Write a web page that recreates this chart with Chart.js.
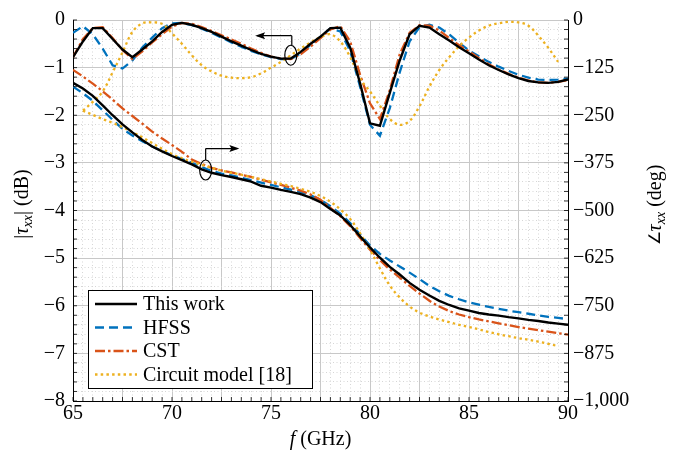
<!DOCTYPE html>
<html>
<head>
<meta charset="utf-8">
<script src="https://cdn.jsdelivr.net/npm/chart.js@4.4.1/dist/chart.umd.min.js"></script>
<style>
body { margin: 0; background: #fff; }
#wrap { width: 686px; height: 457px; position: relative; }
</style>
</head>
<body>
<div id="wrap"><canvas id="lineChart"></canvas></div>
<script>
// frequency grid (GHz)
var freq = [65, 65.5, 66, 66.5, 67, 67.5, 68, 68.5, 69, 69.5, 70, 70.5, 71, 71.5, 72, 72.5, 73, 73.5, 74, 74.5,
            75, 75.5, 76, 76.5, 77, 77.5, 78, 78.5, 79, 79.5, 80, 80.5, 81, 81.5, 82, 82.5, 83, 83.5, 84, 84.5,
            85, 85.5, 86, 86.5, 87, 87.5, 88, 88.5, 89, 89.5, 90];

// |tau_xx| in dB
var magWork = [-0.78, -0.45, -0.17, -0.17, -0.40, -0.62, -0.78, -0.62, -0.45, -0.25, -0.10, -0.06, -0.10, -0.17, -0.25, -0.35, -0.45, -0.54, -0.63, -0.71,
               -0.77, -0.81, -0.81, -0.67, -0.50, -0.35, -0.17, -0.16, -0.58, -1.33, -2.17, -2.22, -1.53, -0.85, -0.30, -0.12, -0.16, -0.30, -0.43, -0.57,
               -0.70, -0.83, -0.95, -1.05, -1.14, -1.22, -1.28, -1.31, -1.32, -1.30, -1.25];
var magHfss = [-0.27, -0.13, -0.30, -0.60, -0.95, -1.02, -0.85, -0.58, -0.37, -0.17, -0.07, -0.06, -0.11, -0.18, -0.27, -0.37, -0.47, -0.56, -0.65, -0.72,
               -0.78, -0.82, -0.82, -0.70, -0.52, -0.35, -0.18, -0.24, -0.65, -1.40, -2.20, -2.43, -1.85, -1.10, -0.45, -0.15, -0.10, -0.16, -0.30, -0.48,
               -0.64, -0.76, -0.88, -0.98, -1.07, -1.15, -1.21, -1.25, -1.26, -1.25, -1.23];
var magCst = [-0.78, -0.40, -0.17, -0.15, -0.38, -0.63, -0.82, -0.66, -0.47, -0.30, -0.14, -0.06, -0.08, -0.15, -0.23, -0.32, -0.41, -0.50, -0.60, -0.69,
              -0.77, -0.81, -0.82, -0.72, -0.56, -0.38, -0.20, -0.13, -0.45, -1.15, -1.75, -2.08, -1.47, -0.72, -0.27, -0.11, -0.12, -0.22, -0.38, -0.53,
              -0.66, -0.80, -0.93, -1.04, -1.13, -1.21, -1.27, -1.31, -1.32, -1.30, -1.26];
var magCircuit = [null, -1.90, -1.72, -1.50, -1.10, -0.68, -0.25, -0.07, -0.05, -0.08, -0.28, -0.50, -0.74, -0.95, -1.08, -1.17, -1.21, -1.22, -1.20, -1.12,
                  -1.00, -0.88, -0.74, -0.60, -0.47, -0.36, -0.30, -0.45, -0.78, -1.23, -1.50, -1.80, -2.08, -2.20, -2.12, -1.81, -1.40, -1.05, -0.78, -0.55,
                  -0.37, -0.22, -0.12, -0.07, -0.04, -0.05, -0.12, -0.33, -0.58, -0.88, null];

// angle of tau_xx in degrees
var phWork = [-165, -180, -199, -224, -250, -274, -295, -315, -332, -345, -357, -368, -379, -392, -401, -407, -412, -418, -424, -435,
              -440, -446, -451, -457, -466, -478, -496, -513, -538, -568, -597, -624, -648, -668, -690, -708, -723, -737, -748, -757,
              -763, -769, -773, -776, -780, -783, -787, -790, -794, -797, -800];
var phHfss = [-175, -192, -212, -237, -262, -286, -303, -318, -332, -344, -355, -365, -375, -386, -396, -403, -408, -414, -420, -427,
              -433, -439, -445, -452, -460, -472, -489, -508, -533, -563, -592, -614, -631, -647, -663, -680, -698, -712, -724, -733,
              -741, -747, -753, -758, -763, -767, -771, -775, -779, -782, -785];
var phCst = [-131, -148, -167, -187, -209, -232, -252, -272, -293, -311, -328, -346, -366, -378, -388, -395, -400, -406, -412, -419,
             -426, -433, -440, -448, -458, -472, -493, -515, -541, -572, -603, -630, -655, -676, -698, -718, -737, -752, -764, -773,
             -780, -786, -791, -796, -801, -806, -810, -814, -818, -822, -826];
var phCircuit = [null, -238, -249, -260, -270, -281, -294, -308, -323, -338, -352, -363, -372, -380, -388, -395, -401, -406, -412, -418,
                 -424, -430, -436, -443, -451, -462, -477, -497, -522, -560, -603, -652, -697, -728, -752, -768, -778, -786, -793, -800,
                 -806, -812, -819, -825, -830, -835, -839, -844, -850, -856, null];

var names = ['This work', 'HFSS', 'CST', 'Circuit model [18]'];
var colors = ['#000000', '#0072BD', '#D95319', '#EDB120'];
var dashes = [[], [9, 5], [10, 3, 2.5, 3], [2.5, 3.2]];

var FONT = "'Liberation Serif', 'Times New Roman', serif";

function pts(arr) {
    var out = [];
    for (var i = 0; i < freq.length; i++) {
        if (arr[i] !== null) out.push({x: freq[i], y: arr[i]});
    }
    return out;
}

function makeSet(k, arr, axis) {
    return {
        label: names[k],
        data: pts(arr),
        yAxisID: axis,
        borderColor: colors[k],
        borderWidth: k == 0 ? 2.4 : 2.3,
        borderDash: dashes[k],
        pointRadius: 0,
        tension: k == 3 ? 0.35 : 0,
        fill: false,
        order: k == 0 ? 0 : 5 - k
    };
}

function minus(s) { return String(s).replace('-', '\u2212'); }

// draw a label made of pieces (italic / subscript / smaller)
function drawParts(ctx, parts, size) {
    var total = 0, i, p;
    function fnt(p) {
        var s = p.sub ? size * 0.7 : (p.s || size);
        return (p.i ? 'italic ' : '') + s + 'px ' + FONT;
    }
    for (i = 0; i < parts.length; i++) {
        p = parts[i];
        ctx.font = fnt(p);
        p.w = ctx.measureText(p.t).width;
        total += p.w;
    }
    var x = -total / 2;
    ctx.textBaseline = 'middle';
    ctx.textAlign = 'left';
    for (i = 0; i < parts.length; i++) {
        p = parts[i];
        ctx.font = fnt(p);
        ctx.fillText(p.t, x, p.sub ? size * 0.25 : 0);
        x += p.w;
    }
}

function arrow(ctx, x0, y0, x1, y1) {
    ctx.beginPath();
    ctx.moveTo(x0, y0);
    ctx.lineTo(x1, y1);
    ctx.stroke();
    var a = Math.atan2(y1 - y0, x1 - x0);
    ctx.beginPath();
    ctx.moveTo(x1 + 2 * Math.cos(a), y1 + 2 * Math.sin(a));
    ctx.lineTo(x1 - 8 * Math.cos(a) + 3.5 * Math.sin(a), y1 - 8 * Math.sin(a) - 3.5 * Math.cos(a));
    ctx.lineTo(x1 - 6 * Math.cos(a), y1 - 6 * Math.sin(a));
    ctx.lineTo(x1 - 8 * Math.cos(a) - 3.5 * Math.sin(a), y1 - 8 * Math.sin(a) + 3.5 * Math.cos(a));
    ctx.closePath();
    ctx.fill();
}

var extras = {
    id: 'extras',
    afterDraw: function(chart) {
        var ctx = chart.ctx;
        var a = chart.chartArea;
        var sx = chart.scales.x, sy = chart.scales.y, sy2 = chart.scales.y2;
        ctx.save();
        ctx.strokeStyle = '#000';
        ctx.fillStyle = '#000';
        ctx.lineWidth = 0.8;
        // inner tick marks
        sx.ticks.forEach(function(t) {
            var px = sx.getPixelForValue(t.value);
            ctx.beginPath(); ctx.moveTo(px, a.bottom); ctx.lineTo(px, a.bottom - 4); ctx.stroke();
        });
        sy.ticks.forEach(function(t) {
            var py = sy.getPixelForValue(t.value);
            ctx.beginPath(); ctx.moveTo(a.left, py); ctx.lineTo(a.left + 4, py); ctx.stroke();
        });
        sy2.ticks.forEach(function(t) {
            var py = sy2.getPixelForValue(t.value);
            ctx.beginPath(); ctx.moveTo(a.right, py); ctx.lineTo(a.right - 4, py); ctx.stroke();
        });

        // annotations: ellipses with arrows
        ctx.lineWidth = 1.2;
        var ex = sx.getPixelForValue(76.0), ey = sy.getPixelForValue(-0.74);
        ctx.beginPath(); ctx.ellipse(ex, ey, 6, 10, 0, 0, Math.PI * 2); ctx.stroke();
        var ty = sy.getPixelForValue(-0.33);
        ctx.beginPath(); ctx.moveTo(ex + 1, ey - 10); ctx.lineTo(ex + 1, ty); ctx.stroke();
        arrow(ctx, ex + 1, ty, sx.getPixelForValue(74.3), ty);

        var fx = sx.getPixelForValue(71.7), fy = sy.getPixelForValue(-3.15);
        ctx.beginPath(); ctx.ellipse(fx, fy, 6, 10, 0, 0, Math.PI * 2); ctx.stroke();
        var uy = sy.getPixelForValue(-2.7);
        ctx.beginPath(); ctx.moveTo(fx, fy - 10); ctx.lineTo(fx, uy); ctx.stroke();
        arrow(ctx, fx, uy, sx.getPixelForValue(73.3), uy);

        // legend
        var lx = 88, ly = 290, lw = 224, lh = 98;
        ctx.fillStyle = '#fff';
        ctx.fillRect(lx, ly, lw, lh);
        ctx.lineWidth = 1;
        ctx.strokeStyle = '#000';
        ctx.strokeRect(lx + 0.5, ly + 0.5, lw, lh);
        for (var k = 0; k < names.length; k++) {
            var ry = ly + 14 + k * 23.5;
            ctx.strokeStyle = colors[k];
            ctx.lineWidth = 2.4;
            ctx.setLineDash(dashes[k]);
            ctx.beginPath(); ctx.moveTo(lx + 7, ry); ctx.lineTo(lx + 49, ry); ctx.stroke();
            ctx.setLineDash([]);
            ctx.fillStyle = '#000';
            ctx.font = '20px ' + FONT;
            ctx.textAlign = 'left';
            ctx.textBaseline = 'middle';
            ctx.fillText(names[k], lx + 55, ry + 1);
        }

        // axis titles
        ctx.fillStyle = '#000';
        ctx.save();
        ctx.translate(23, 204);
        ctx.rotate(-Math.PI / 2);
        drawParts(ctx, [{t: '|'}, {t: '\u03c4', i: true}, {t: 'xx', i: true, sub: true}, {t: '| (dB)'}], 20);
        ctx.restore();

        ctx.save();
        ctx.translate(656, 205);
        ctx.rotate(-Math.PI / 2);
        drawParts(ctx, [{t: '\u2220', s: 16}, {t: '\u03c4', i: true}, {t: 'xx', i: true, sub: true}, {t: ' (deg)'}], 20);
        ctx.restore();

        ctx.save();
        ctx.translate((a.left + a.right) / 2, 440);
        drawParts(ctx, [{t: 'f', i: true}, {t: ' (GHz)'}], 20);
        ctx.restore();
        ctx.restore();
    }
};

function renderChart() {
    var ctx = document.getElementById('lineChart').getContext('2d');
    var sets = [
        makeSet(0, magWork, 'y'), makeSet(1, magHfss, 'y'), makeSet(2, magCst, 'y'), makeSet(3, magCircuit, 'y'),
        makeSet(0, phWork, 'y2'), makeSet(1, phHfss, 'y2'), makeSet(2, phCst, 'y2'), makeSet(3, phCircuit, 'y2')
    ];
    var myChart = new Chart(ctx, {
        type: 'line',
        data: { datasets: sets },
        plugins: [extras],
        options: {
            responsive: true,
            maintainAspectRatio: false,
            animation: false,
            layout: { padding: { top: 12, left: 0, right: 0, bottom: 0 } },
            plugins: { legend: { display: false }, tooltip: { enabled: false } },
            scales: {
                x: {
                    type: 'linear', min: 65, max: 90,
                    afterFit: function(s) { s.height = 56; },
                    ticks: {
                        stepSize: 0.5, autoSkip: false, maxRotation: 0, padding: 1,
                        color: '#000', font: { family: FONT, size: 20 },
                        callback: function(v) { return Math.abs(v % 5) < 1e-6 ? String(v) : ''; }
                    },
                    grid: {
                        drawTicks: false,
                        color: function(c) { return c.tick && Math.abs(c.tick.value % 2.5) < 1e-6 ? '#c8c8c8' : '#d6d6d6'; },
                        lineWidth: 1
                    },
                    border: {
                        color: '#000', width: 1,
                        dash: function(c) { return c.tick && Math.abs(c.tick.value % 2.5) > 1e-6 ? [1, 2.5] : []; }
                    }
                },
                y: {
                    position: 'left', min: -8, max: 0,
                    afterFit: function(s) { s.width = 73; },
                    ticks: {
                        stepSize: 0.2, autoSkip: false, padding: 8,
                        color: '#000', font: { family: FONT, size: 20 },
                        callback: function(v) { return Math.abs(v - Math.round(v)) < 1e-6 ? minus(Math.round(v)) : ''; }
                    },
                    grid: {
                        drawTicks: false,
                        color: function(c) { return c.tick && Math.abs(c.tick.value - Math.round(c.tick.value)) < 1e-6 ? '#c8c8c8' : '#d6d6d6'; },
                        lineWidth: 1
                    },
                    border: {
                        color: '#000', width: 1,
                        dash: function(c) { return c.tick && Math.abs(c.tick.value - Math.round(c.tick.value)) > 1e-6 ? [1, 2.5] : []; }
                    }
                },
                y2: {
                    position: 'right', min: -1000, max: 0,
                    afterFit: function(s) { s.width = 118; },
                    ticks: {
                        stepSize: 25, autoSkip: false, padding: 5,
                        color: '#000', font: { family: FONT, size: 20 },
                        callback: function(v) { return v % 125 == 0 ? minus(Number(v).toLocaleString('en-US')) : ''; }
                    },
                    grid: { drawOnChartArea: false, drawTicks: false },
                    border: { color: '#000', width: 1 }
                }
            }
        }
    });
}

renderChart();
</script>
</body>
</html>
